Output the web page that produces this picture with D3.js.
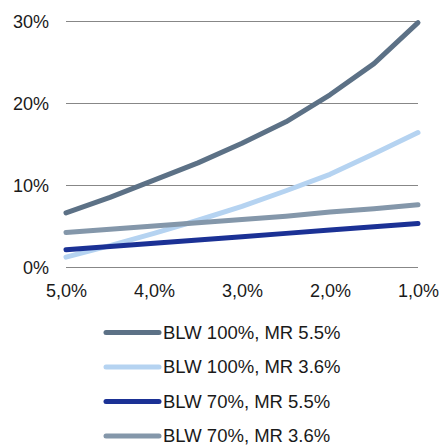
<!DOCTYPE html>
<html><head><meta charset="utf-8">
<script src="https://cdn.jsdelivr.net/npm/d3@7"></script>
<style>body{margin:0;background:#fff}svg{display:block;font-family:"Liberation Sans",Arial,sans-serif}</style>
</head><body>
<script>
const rates = [5.0,4.5,4.0,3.5,3.0,2.5,2.0,1.5,1.0];
const xTicks = [5.0,4.0,3.0,2.0,1.0];
const yTicks = [0,10,20,30];
const seriesNames = ["BLW 100%, MR 5.5%","BLW 100%, MR 3.6%","BLW 70%, MR 5.5%","BLW 70%, MR 3.6%"];
const s1 = [6.6,8.5,10.6,12.7,15.1,17.7,21.0,24.8,29.8];
const s2 = [1.2,2.6,4.1,5.7,7.4,9.3,11.3,13.8,16.4];
const s3 = [2.1,2.5,2.9,3.3,3.7,4.1,4.5,4.9,5.3];
const s4 = [4.2,4.6,5.0,5.4,5.8,6.2,6.7,7.1,7.6];
const colors = ["#5c7186","#b5d3f1","#1b3195","#8497aa"];
const allSeries = [s1,s2,s3,s4];
const drawOrder = [1,3,2,0];

const W=441,H=446;
const svg=d3.select("body").append("svg").attr("width",W).attr("height",H);
const x=d3.scaleLinear().domain([5,1]).range([66,418]);
const y=d3.scaleLinear().domain([0,30]).range([267,21]);

const grid=svg.append("g");
grid.selectAll("line").data(yTicks).join("line")
 .attr("x1",66).attr("x2",418).attr("y1",d=>y(d)+0.5).attr("y2",d=>y(d)+0.5)
 .attr("stroke","#878787").attr("stroke-width",1);

const yAxis=d3.axisLeft(y).tickValues(yTicks).tickFormat(d=>d+"%").tickSize(0).tickPadding(0);
const ya=svg.append("g").attr("transform","translate(49,0)").call(yAxis);
ya.select(".domain").remove();
ya.selectAll("text").attr("font-size",18).attr("fill","#1a1a1a").attr("font-family","Liberation Sans, Arial, sans-serif").attr("dy","0.35em");

const xAxis=d3.axisBottom(x).tickValues(xTicks).tickFormat(d=>d.toFixed(1).replace(".",",")+"%").tickSize(0).tickPadding(0);
const xa=svg.append("g").attr("transform","translate(0,284)").call(xAxis);
xa.select(".domain").remove();
xa.selectAll("text").attr("font-size",18).attr("fill","#1a1a1a").attr("font-family","Liberation Sans, Arial, sans-serif").attr("dy","0.71em");

const line=d3.line().x((d,i)=>x(rates[i])).y(d=>y(d));
drawOrder.forEach(k=>{
 svg.append("path").datum(allSeries[k]).attr("d",line).attr("fill","none")
  .attr("stroke",colors[k]).attr("stroke-width",5).attr("stroke-linecap","round").attr("stroke-linejoin","round");
});

const leg=svg.append("g");
seriesNames.forEach((n,i)=>{
 const yy=332.5+i*34.5;
 leg.append("line").attr("x1",106).attr("x2",159).attr("y1",yy).attr("y2",yy)
  .attr("stroke",colors[i]).attr("stroke-width",5).attr("stroke-linecap","round");
 leg.append("text").attr("x",163).attr("y",yy).attr("dy","0.35em").attr("font-size",18.5)
  .attr("fill","#1a1a1a").text(n);
});
</script>
</body></html>
